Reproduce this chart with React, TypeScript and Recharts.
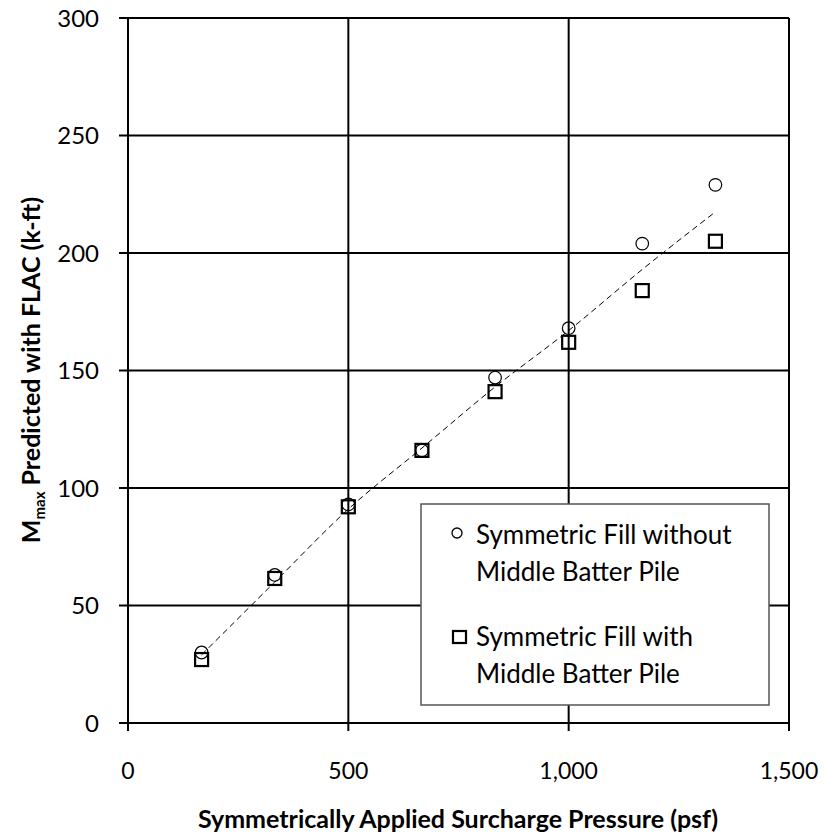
import React from "react";
import { ScatterChart, Scatter, XAxis, YAxis, CartesianGrid } from "recharts";

// surcharge pressure steps (psf)
const pressure = [167, 333, 500, 667, 833, 1000, 1167, 1333];
// Mmax (k-ft) for each case
const withoutBatter = [30, 63, 93, 116, 147, 168, 204, 229];
const withBatter = [27, 61.5, 92, 116, 141, 162, 184, 205];
// dashed trendline values at the same pressures
const trendValues = [29, 60, 91, 117, 143, 167, 193, 217.5];

const xTicks = [0, 500, 1000, 1500];
const yTicks = [0, 50, 100, 150, 200, 250, 300];

const legendLabels = [
  ["Symmetric Fill without", "Middle Batter Pile"],
  ["Symmetric Fill with", "Middle Batter Pile"],
];

const toPoints = (ys: number[]) => pressure.map((x, i) => ({ x, y: ys[i] }));

const circlePts = toPoints(withoutBatter);
const squarePts = toPoints(withBatter);
const trendPts = toPoints(trendValues);

const FONT = "Lato, 'Open Sans', sans-serif";

const CircleMark = (p: any) => (
  <circle cx={p.cx} cy={p.cy} r={6.3} fill="none" stroke="#000" strokeWidth={1.2} />
);

const SquareMark = (p: any) => (
  <rect
    x={p.cx - 6.5}
    y={p.cy - 6.5}
    width={13}
    height={13}
    fill="none"
    stroke="#000"
    strokeWidth={2.2}
  />
);

const NoMark = () => <g />;

// legend box drawn over the plot, lower right
function LegendBox() {
  const textProps = { fontFamily: FONT, fontSize: 26, fill: "#000" };
  return (
    <svg
      width={350}
      height={203}
      style={{ position: "absolute", left: 420, top: 503 }}
    >
      <rect x={1} y={1} width={348} height={201} fill="#fff" stroke="#555" strokeWidth={1.5} />
      <circle cx={37} cy={30} r={5} fill="none" stroke="#000" strokeWidth={1.3} />
      <text x={56} y={41} {...textProps}>{legendLabels[0][0]}</text>
      <text x={56} y={78} {...textProps}>{legendLabels[0][1]}</text>
      <rect x={33} y={128} width={13} height={12} fill="none" stroke="#000" strokeWidth={2.2} />
      <text x={56} y={143} {...textProps}>{legendLabels[1][0]}</text>
      <text x={56} y={180} {...textProps}>{legendLabels[1][1]}</text>
    </svg>
  );
}

const YTitle = () => (
  <text
    x={40}
    y={370}
    transform="rotate(-90 40 370)"
    textAnchor="middle"
    fontFamily={FONT}
    fontWeight="bold"
    fontSize={25}
    fill="#000"
  >
    M
    <tspan fontSize={15} dy={5}>max</tspan>
    <tspan dy={-5}> Predicted with FLAC (k-ft)</tspan>
  </text>
);

const XTitle = () => (
  <text
    x={458}
    y={828}
    textAnchor="middle"
    fontFamily={FONT}
    fontWeight="bold"
    fontSize={25}
    fill="#000"
  >
    Symmetrically Applied Surcharge Pressure (psf)
  </text>
);

export default function App() {
  return (
    <div style={{ position: "absolute", left: 0, top: 0, width: 825, height: 834, background: "#fff" }}>
      <ScatterChart
        width={825}
        height={834}
        margin={{ top: 18, right: 36, bottom: 0, left: 0 }}
      >
        <CartesianGrid stroke="#000" strokeWidth={2} fill="none" />
        <XAxis
          type="number"
          dataKey="x"
          domain={[0, 1500]}
          ticks={xTicks}
          interval={0}
          tickFormatter={(v: number) => v.toLocaleString("en-US")}
          stroke="#000"
          strokeWidth={2}
          tickSize={8}
          tickMargin={32}
          height={111}
          tick={{ fontFamily: FONT, fontSize: 23, fill: "#000" }}
          label={<XTitle />}
        />
        <YAxis
          type="number"
          dataKey="y"
          domain={[0, 300]}
          ticks={yTicks}
          interval={0}
          stroke="#000"
          strokeWidth={2}
          tickSize={9}
          tickMargin={20}
          width={128}
          tick={{ fontFamily: FONT, fontSize: 24, fill: "#000" }}
          label={<YTitle />}
        />
        <Scatter
          name="Symmetric Fill without Middle Batter Pile"
          data={circlePts}
          shape={CircleMark}
          isAnimationActive={false}
        />
        <Scatter
          name="Symmetric Fill with Middle Batter Pile"
          data={squarePts}
          shape={SquareMark}
          isAnimationActive={false}
        />
        <Scatter
          name="trend"
          data={trendPts}
          shape={NoMark}
          line={{ stroke: "#000", strokeWidth: 1, strokeDasharray: "6 4" }}
          lineJointType="monotoneX"
          legendType="none"
          isAnimationActive={false}
        />
      </ScatterChart>
      <LegendBox />
    </div>
  );
}
